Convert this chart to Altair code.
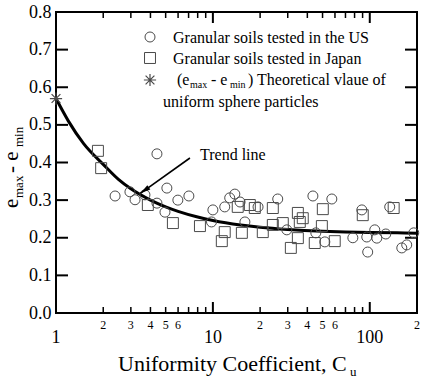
import altair as alt
import pandas as pd

# Granular soils tested in the US (Cu, emax - emin)
us_cu = [2.38, 2.96, 3.19, 3.69, 4.4, 4.4, 4.95, 5.09, 5.98, 7.03, 10.0, 9.8, 11.9, 12.8,
         13.8, 14.9, 16.0, 19.4, 25.9, 29.6, 43.4, 45.3, 51.7, 57.3, 78.0, 89.0, 95.7,
         97.0, 107.6, 110.9, 126.5, 134.0, 160.0, 172.0, 190.6]
us_e = [0.311, 0.322, 0.301, 0.314, 0.292, 0.423, 0.268, 0.332, 0.300, 0.311, 0.274, 0.242,
        0.282, 0.306, 0.316, 0.295, 0.242, 0.282, 0.303, 0.221, 0.311, 0.213, 0.189, 0.303,
        0.200, 0.274, 0.202, 0.162, 0.221, 0.199, 0.210, 0.282, 0.173, 0.181, 0.213]

# Granular soils tested in Japan
jp_cu = [1.85, 1.94, 3.85, 5.56, 8.27, 11.4, 11.9, 14.4, 15.3, 17.2, 18.5, 20.8, 24.1,
         24.1, 27.9, 31.4, 34.8, 37.4, 35.8, 34.8, 44.6, 49.5, 50.2, 59.8, 90.2, 142.0]
jp_e = [0.431, 0.385, 0.287, 0.239, 0.231, 0.191, 0.215, 0.282, 0.213, 0.287, 0.279, 0.215,
        0.279, 0.234, 0.239, 0.173, 0.266, 0.252, 0.242, 0.199, 0.186, 0.231, 0.276, 0.191,
        0.260, 0.279]

# Theoretical value for uniform spheres
theory_cu = [1.0]
theory_e = [0.57]

# Trend line
trend_cu = [1, 1.2, 1.5, 2, 2.5, 3, 4, 5, 6, 8, 10, 15, 20, 30, 50, 70, 100, 150, 200]
trend_e = [0.570, 0.510, 0.450, 0.395, 0.355, 0.330, 0.300, 0.282, 0.270, 0.255, 0.246,
           0.234, 0.228, 0.222, 0.217, 0.215, 0.214, 0.213, 0.212]

# Arrow for the trend-line note (tail, tip)
arrow_cu = [7.14, 3.45]
arrow_e = [0.412, 0.318]

# Axis ticks and labels
x_major = [1, 10, 100]
x_major_labels = ["1", "10", "100"]
x_minor = [2, 3, 4, 5, 6, 7, 8, 9, 20, 30, 40, 50, 60, 70, 80, 90, 200]
x_minor_lab_pos = [2, 3, 4, 5, 6, 20, 30, 40, 50, 60, 200]
x_minor_labels = ["2", "3", "4", "5", "6", "2", "3", "4", "5", "6", "2"]
y_ticks = [0.0, 0.1, 0.2, 0.3, 0.4, 0.5, 0.6, 0.7, 0.8]

W, H = 361, 301
FONT = "Liberation Serif"
MARK = "#4a4a4a"

xs = alt.Scale(type="log", domain=[1, 200], nice=False)
ys = alt.Scale(domain=[0, 0.8], nice=False, zero=False)
X = alt.X("cu:Q", scale=xs, axis=None)
Y = alt.Y("e:Q", scale=ys, axis=alt.Axis(
    values=y_ticks, format=".1f", ticks=False, domain=False, grid=False,
    labelFont=FONT, labelFontSize=18, labelColor="black", labelPadding=5, title=None))

us = pd.DataFrame({"cu": us_cu, "e": us_e})
jp = pd.DataFrame({"cu": jp_cu, "e": jp_e})
th = pd.DataFrame({"cu": theory_cu, "e": theory_e})
tr = pd.DataFrame({"cu": trend_cu, "e": trend_e})
ar = pd.DataFrame({"cu": arrow_cu, "e": arrow_e})
tip = ar.iloc[[1]]

ASTER = "M-1,0L1,0M0,-1L0,1M-0.72,-0.72L0.72,0.72M-0.72,0.72L0.72,-0.72"
HEAD = "M0,0L-0.42,1.7L0.42,1.7Z"

layers = []

# inward ticks
def xticks(vals, length, width):
    d = pd.DataFrame({"cu": vals})
    bot = alt.Chart(d).mark_rule(color="black", strokeWidth=width).encode(
        x=X, y=alt.value(H), y2=alt.value(H - length))
    top = alt.Chart(d).mark_rule(color="black", strokeWidth=width).encode(
        x=X, y=alt.value(0), y2=alt.value(length))
    return [bot, top]

layers += xticks(x_major, 11, 2)
layers += xticks(x_minor, 6, 1.5)
yt = pd.DataFrame({"e": y_ticks})
layers.append(alt.Chart(yt).mark_rule(color="black", strokeWidth=2).encode(
    y=Y, x=alt.value(0), x2=alt.value(12)))
layers.append(alt.Chart(yt).mark_rule(color="black", strokeWidth=2).encode(
    y=Y, x=alt.value(W - 12), x2=alt.value(W)))

# x tick labels
layers.append(alt.Chart(pd.DataFrame({"cu": x_major, "t": x_major_labels})).mark_text(
    font=FONT, fontSize=18, baseline="middle", color="black").encode(
    x=X, y=alt.value(H + 25), text="t:N"))
layers.append(alt.Chart(pd.DataFrame({"cu": x_minor_lab_pos, "t": x_minor_labels})).mark_text(
    font=FONT, fontSize=12, baseline="middle", color="black").encode(
    x=X, y=alt.value(H + 12), text="t:N"))

# data
layers.append(alt.Chart(tr).mark_line(color="black", strokeWidth=3, interpolate="monotone").encode(x=X, y=Y))
layers.append(alt.Chart(us).mark_point(shape="circle", size=100, filled=False, color=MARK,
                                       strokeWidth=1, opacity=1).encode(x=X, y=Y))
layers.append(alt.Chart(jp).mark_point(shape="square", size=120, filled=False, color=MARK,
                                       strokeWidth=1, opacity=1).encode(x=X, y=Y))
layers.append(alt.Chart(th).mark_point(shape=ASTER, size=150, filled=False, color=MARK,
                                       strokeWidth=1.2, opacity=1).encode(x=X, y=Y))

# trend-line note
layers.append(alt.Chart(ar).mark_line(color="black", strokeWidth=1.6).encode(x=X, y=Y))
layers.append(alt.Chart(tip).mark_point(shape=HEAD, size=150, filled=True, color="black",
                                        angle=234.5, opacity=1).encode(x=X, y=Y))
layers.append(alt.Chart(tip).mark_text(text="Trend line", font=FONT, fontSize=16, align="left",
                                       baseline="middle", color="black").encode(
    x=alt.value(144), y=alt.value(143)))

# legend
def sym(shape, size, yv, sw=1):
    return alt.Chart(th).mark_point(shape=shape, size=size, filled=False, color=MARK,
                                    strokeWidth=sw, opacity=1).encode(
        x=alt.value(94), y=alt.value(yv))

def txt(s, xv, yv, fs=16):
    return alt.Chart(th).mark_text(text=s, font=FONT, fontSize=fs, align="left",
                                   baseline="middle", color="black").encode(
        x=alt.value(xv), y=alt.value(yv))

layers += [
    sym("circle", 100, 25), sym("square", 120, 46), sym(ASTER, 150, 68, 1.2),
    txt("Granular soils tested in the US", 117, 26),
    txt("Granular soils tested in Japan", 117, 47),
    txt("(e", 121, 68), txt("max", 134, 73, 10), txt("- e", 155, 68),
    txt("min", 174, 73, 10), txt(") Theoretical vlaue of", 192, 68),
    txt("uniform sphere particles", 107, 90),
]

# axis titles
layers += [
    txt("Uniformity Coefficient, C", 62, 352, 22),
    txt("u", 294, 360, 13),
]

def vtxt(s, xv, yv, fs):
    return alt.Chart(th).mark_text(text=s, font=FONT, fontSize=fs, align="left",
                                   baseline="middle", angle=270, color="black").encode(
        x=alt.value(xv), y=alt.value(yv))

layers += [
    vtxt("e", -44, 196, 21),
    vtxt("max", -37, 186, 13),
    vtxt("- e", -44, 161, 21),
    vtxt("min", -37, 135, 13),
]

chart = alt.layer(*layers).properties(
    width=W, height=H,
    autosize=alt.AutoSizeParams(type="none"),
    padding={"left": 56, "top": 12, "right": 8, "bottom": 68},
    background="white",
).configure_view(stroke="black", strokeWidth=2).configure_axis(grid=False)

chart.save("out.html", embed_options={"renderer": "svg", "actions": False})
